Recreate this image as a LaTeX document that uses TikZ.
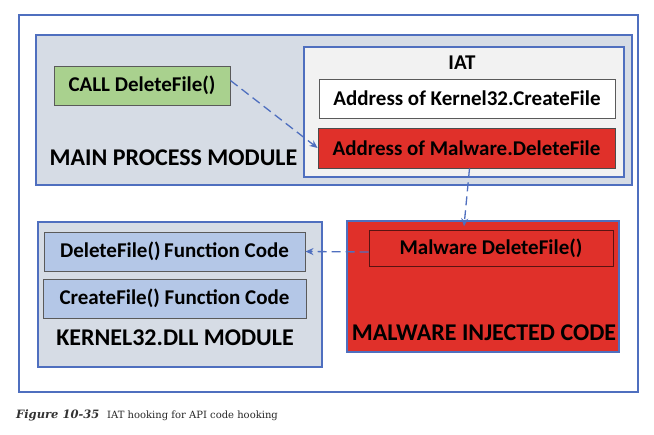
\documentclass[tikz,border=0pt]{standalone}
\usepackage{fontspec}
\setmainfont{Carlito}
\newfontfamily\capfont{DejaVu Serif}
\usetikzlibrary{arrows.meta}
\definecolor{modblue}{HTML}{4F6FBF}
\definecolor{modfill}{HTML}{D6DCE5}
\definecolor{iatfill}{HTML}{F2F2F2}
\definecolor{callgreen}{HTML}{A9D18E}
\definecolor{codeblue}{HTML}{B4C7E7}
\definecolor{malred}{HTML}{E0302A}
\definecolor{boxgray}{HTML}{5A5A5A}
\begin{document}
\begin{tikzpicture}[x=1pt, y=-1pt,
    module/.style={draw=modblue, line width=1.3pt, fill=modfill, inner sep=0pt},
    entry/.style={draw=boxgray, line width=0.9pt, inner sep=0pt, font=\fontsize{21}{25}\selectfont\bfseries},
    title/.style={font=\fontsize{24}{28}\selectfont\bfseries, inner sep=0pt},
    hook/.style={draw=modblue, line width=1.3pt, dash pattern=on 9pt off 5pt, -{Stealth[length=8pt, width=7pt]}}]
    \useasboundingbox (0,0) rectangle (654,435);
    \node[draw=modblue, line width=1.3pt, minimum width=619pt, minimum height=377pt] (frame) at (328.5,203.5) {};
    \node[module, minimum width=596pt, minimum height=150pt] (main) at (334,110) {};
    \node[entry, fill=callgreen, minimum width=176pt, minimum height=39pt] (call) at (142,85.5) {CALL DeleteFile()};
    \node[title] (mainlbl) at (173.5,158) {MAIN PROCESS MODULE};
    \node[module, fill=iatfill, minimum width=320pt, minimum height=130pt] (iat) at (464,112) {};
    \node[title, font=\fontsize{21}{25}\selectfont\bfseries] (iatlbl) at (462,63) {IAT};
    \node[entry, fill=white, minimum width=296pt, minimum height=39pt] (createaddr) at (467,98.5) {Address of Kernel32.CreateFile};
    \node[entry, fill=malred, draw=black!70, minimum width=297pt, minimum height=40pt] (maladdr) at (466.5,148) {Address of Malware.DeleteFile};
    \node[module, minimum width=284pt, minimum height=145pt] (kernel) at (180,294.5) {};
    \node[entry, fill=codeblue, minimum width=261pt, minimum height=39pt] (delcode) at (174.5,251.5) {DeleteFile()\,Function Code};
    \node[entry, fill=codeblue, minimum width=263pt, minimum height=39pt] (createcode) at (174.5,298.5) {CreateFile() Function Code};
    \node[title] (kernellbl) at (175,338) {KERNEL32.DLL MODULE};
    \node[module, fill=malred, minimum width=272pt, minimum height=131pt] (inject) at (483,286.5) {};
    \node[entry, fill=malred, draw=black!60!malred, minimum width=244pt, minimum height=36pt] (maldel) at (491,248) {Malware DeleteFile()};
    \node[title] (injectlbl) at (484,333) {MALWARE INJECTED CODE};
    \draw[hook] ([yshift=5pt]call.east) -- (maladdr.west);
    \draw[hook] ([xshift=3pt]maladdr.south) -- ([xshift=-19pt, yshift=-6pt]inject.north);
    \draw[hook] ([yshift=-4pt]maldel.west) -- (delcode.east);
    \node[anchor=base west, inner sep=0pt, font=\capfont\fontsize{11.5}{14}\selectfont\bfseries\itshape, text=black!80] (figno) at (16,419) {Figure 10-35};
    \node[anchor=base west, inner sep=0pt, font=\capfont\fontsize{10}{12}\selectfont, text=black!85] (figtext) at (107,419) {IAT hooking for API code hooking};
\end{tikzpicture}
\end{document}
